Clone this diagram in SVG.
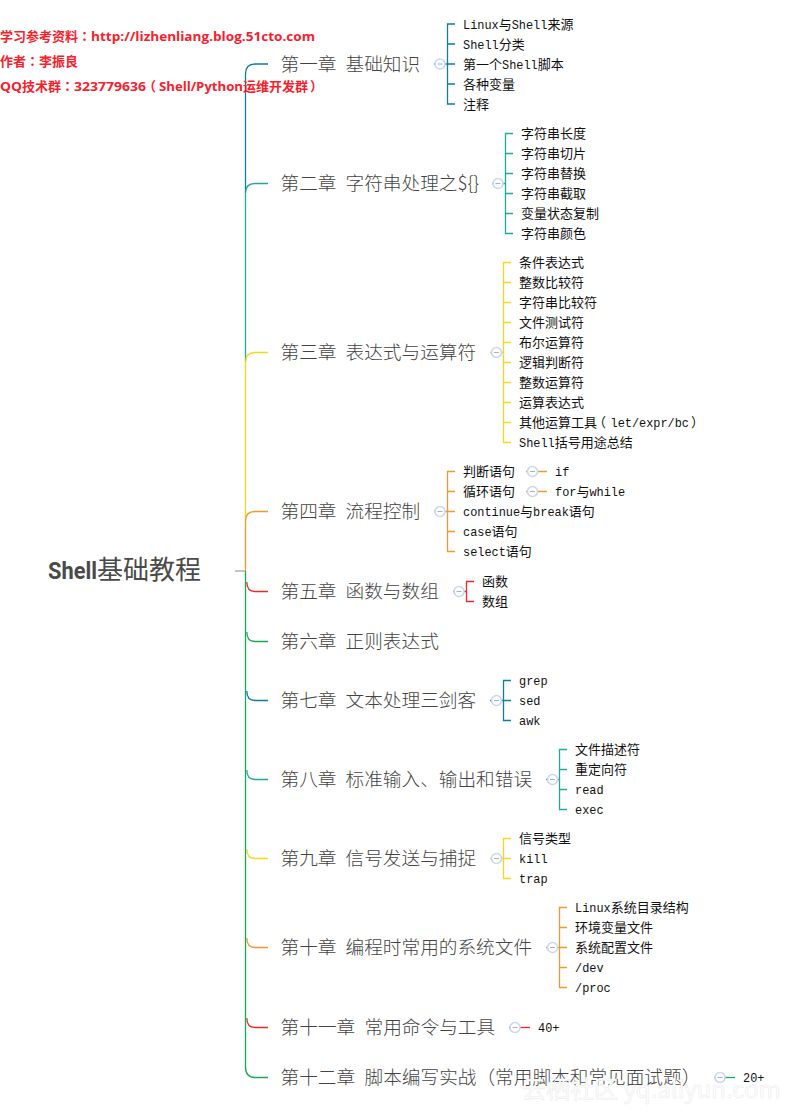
<svg xmlns="http://www.w3.org/2000/svg" width="791" height="1112" viewBox="0 0 791 1112">
<defs>
<g id="fold"><circle r="5" fill="#fff" stroke="#c9d7f1" stroke-width="1.6"/><path d="M-2.500 0H2.500" stroke="#9fb0d0" stroke-width="1"/></g>
</defs>
<style>
text{white-space:pre}
.note{font-family:"Open Sans","Noto Sans CJK SC",sans-serif;font-size:13px;font-weight:700;fill:#f5222d}
.p{font-family:"Noto Sans CJK TC",sans-serif}
.root{font-family:"Noto Sans CJK SC",sans-serif;font-size:26px;fill:#4a4a4a}
.rootL{font-family:Roboto,sans-serif;font-weight:700;font-size:24px}
.ch{font-family:"Noto Sans CJK SC",sans-serif;font-size:18.67px;font-weight:300;fill:#444}
.leaf{font-family:"Liberation Mono","Noto Sans CJK SC",monospace;font-size:11.900px;fill:#111}
.z{font-family:"Noto Sans CJK SC",sans-serif;font-size:13px}
.wm{font-family:"Noto Sans CJK SC",sans-serif;font-size:24px;fill:#fff;stroke:#ececec;stroke-width:.6}
#connectors path{fill:none;stroke-width:1.3}
.blue{stroke:#0b7f9c}.teal{stroke:#1eab9a}.yellow{stroke:#ffd416}.orange{stroke:#f5972a}.red{stroke:#ee2a20}.green{stroke:#19a95a}
</style>
<g id="connectors">
<path d="M235 571H245" style="stroke:#a5a5a5"/>
<path class="blue" d="M245.500 193V74Q245.500 64 255 64H268"/>
<path class="teal" d="M245.500 362V193Q245.500 183.500 255 183.500H268"/>
<path class="yellow" d="M245.500 521V362Q245.500 352.500 255 352.500H268"/>
<path class="orange" d="M245.500 571V521Q245.500 511.500 255 511.500H268"/>
<path class="red" d="M246.800 582Q246.800 591.500 255 591.500H268"/>
<path class="green" d="M246.800 632Q246.800 641.500 255 641.500H268"/>
<path class="blue" d="M246.800 691Q246.800 700.500 255 700.500H268"/>
<path class="teal" d="M246.800 770Q246.800 779.500 255 779.500H268"/>
<path class="yellow" d="M246.800 849Q246.800 858.500 255 858.500H268"/>
<path class="orange" d="M246.800 938Q246.800 947.500 255 947.500H268"/>
<path class="red" d="M246.800 1018Q246.800 1027.500 255 1027.500H268"/>
<path class="green" d="M245.500 571V1067Q245.500 1077.500 255 1077.500H268"/>
<path class="blue" d="M434 64H447.500M455 24H447.500V104H455M447.500 44H455M447.500 64H455M447.500 84H455"/>
<path class="teal" d="M492 183.500H505.500M513 133.500H505.500V233.500H513M505.500 153.500H513M505.500 173.500H513M505.500 193.500H513M505.500 213.500H513"/>
<path class="yellow" d="M490 352.500H503.500M511 262.500H503.500V442.500H511M503.500 282.500H511M503.500 302.500H511M503.500 322.500H511M503.500 342.500H511M503.500 362.500H511M503.500 382.500H511M503.500 402.500H511M503.500 422.500H511"/>
<path class="orange" d="M434 511.500H447.500M455 471.500H447.500V551.500H455M447.500 491.500H455M447.500 511.500H455M447.500 531.500H455M526 471.500H547M526 491.500H547"/>
<path class="red" d="M453 591.500H466.500M474 581.500H466.500V601.500H474"/>
<path class="blue" d="M490 700.500H503.500M511 680.500H503.500V720.500H511M503.500 700.500H511"/>
<path class="teal" d="M546 779.500H559.500M567 749.500H559.500V809.500H567M559.500 769.500H567M559.500 789.500H567"/>
<path class="yellow" d="M490 858.500H503.500M511 838.500H503.500V878.500H511M503.500 858.500H511"/>
<path class="orange" d="M546 947.500H559.500M567 907.500H559.500V987.500H567M559.500 927.500H567M559.500 947.500H567M559.500 967.500H567"/>
<path class="red" d="M509 1027.500H530"/>
<path class="green" d="M714 1077.500H735"/>
</g>
<g id="note">
<text class="note" y="41"><tspan x="0">学习参考资料</tspan><tspan class="p" x="78">：</tspan><tspan x="91" textLength="224" lengthAdjust="spacingAndGlyphs">http://lizhenliang.blog.51cto.com</tspan></text>
<text class="note" y="66"><tspan x="0">作者</tspan><tspan class="p" x="26">：</tspan><tspan x="39">李振良</tspan></text>
<text class="note" y="91"><tspan x="0" textLength="22" lengthAdjust="spacingAndGlyphs">QQ</tspan><tspan x="22">技术群</tspan><tspan class="p" x="61">：</tspan><tspan x="74" textLength="72" lengthAdjust="spacingAndGlyphs">323779636</tspan><tspan class="p" x="143">（</tspan><tspan x="159" textLength="84" lengthAdjust="spacingAndGlyphs">Shell/Python</tspan><tspan x="243">运维开发群</tspan><tspan class="p" x="310">）</tspan></text>
</g>
<g id="root"><text class="root" x="48" y="578.500"><tspan class="rootL" textLength="49" lengthAdjust="spacingAndGlyphs">Shell</tspan><tspan x="97">基础教程</tspan></text></g>
<g id="ch1"><text class="ch" y="70.500"><tspan x="280.500">第一章</tspan><tspan x="345.500">基础知识</tspan></text><use href="#fold" x="440" y="64"/></g>
<g id="ch2"><text class="ch" y="189.500"><tspan x="280.500">第二章</tspan><tspan x="345.500">字符串处理之${}</tspan></text><use href="#fold" x="498" y="183.500"/></g>
<g id="ch3"><text class="ch" y="358.500"><tspan x="280.500">第三章</tspan><tspan x="345.500">表达式与运算符</tspan></text><use href="#fold" x="496.500" y="352.500"/></g>
<g id="ch4"><text class="ch" y="517.500"><tspan x="280.500">第四章</tspan><tspan x="345.500">流程控制</tspan></text><use href="#fold" x="440" y="511.500"/></g>
<g id="ch5"><text class="ch" y="597.500"><tspan x="280.500">第五章</tspan><tspan x="345.500">函数与数组</tspan></text><use href="#fold" x="459" y="591.500"/></g>
<g id="ch6"><text class="ch" y="647.500"><tspan x="280.500">第六章</tspan><tspan x="345.500">正则表达式</tspan></text></g>
<g id="ch7"><text class="ch" y="706.500"><tspan x="280.500">第七章</tspan><tspan x="345.500">文本处理三剑客</tspan></text><use href="#fold" x="496.500" y="700.500"/></g>
<g id="ch8"><text class="ch" y="785.500"><tspan x="280.500">第八章</tspan><tspan x="345.500">标准输入、输出和错误</tspan></text><use href="#fold" x="552.500" y="779.500"/></g>
<g id="ch9"><text class="ch" y="864.500"><tspan x="280.500">第九章</tspan><tspan x="345.500">信号发送与捕捉</tspan></text><use href="#fold" x="496.500" y="858.500"/></g>
<g id="ch10"><text class="ch" y="953.500"><tspan x="280.500">第十章</tspan><tspan x="345.500">编程时常用的系统文件</tspan></text><use href="#fold" x="552.500" y="947.500"/></g>
<g id="ch11"><text class="ch" y="1033.500"><tspan x="280.500">第十一章</tspan><tspan x="364.500">常用命令与工具</tspan></text><use href="#fold" x="515" y="1027.500"/></g>
<g id="ch12"><text class="ch" y="1083.500"><tspan x="280.500">第十二章</tspan><tspan x="364.500">脚本编写实战（常用脚本和常见面试题）</tspan></text><use href="#fold" x="720" y="1077.500"/></g>
<g id="leaves-ch1">
<g id="l1-1"><text class="leaf" x="463" y="28.500">Linux<tspan class="z">与</tspan>Shell<tspan class="z">来源</tspan></text></g>
<g id="l1-2"><text class="leaf" x="463" y="48.500">Shell<tspan class="z">分类</tspan></text></g>
<g id="l1-3"><text class="leaf" x="463" y="68.500"><tspan class="z">第一个</tspan>Shell<tspan class="z">脚本</tspan></text></g>
<g id="l1-4"><text class="leaf z" x="463" y="88.500">各种变量</text></g>
<g id="l1-5"><text class="leaf z" x="463" y="108.500">注释</text></g>
</g>
<g id="leaves-ch2">
<g id="l2-1"><text class="leaf z" x="521" y="137.500">字符串长度</text></g>
<g id="l2-2"><text class="leaf z" x="521" y="157.500">字符串切片</text></g>
<g id="l2-3"><text class="leaf z" x="521" y="177.500">字符串替换</text></g>
<g id="l2-4"><text class="leaf z" x="521" y="197.500">字符串截取</text></g>
<g id="l2-5"><text class="leaf z" x="521" y="217.500">变量状态复制</text></g>
<g id="l2-6"><text class="leaf z" x="521" y="237.500">字符串颜色</text></g>
</g>
<g id="leaves-ch3">
<g id="l3-1"><text class="leaf z" x="519" y="266.500">条件表达式</text></g>
<g id="l3-2"><text class="leaf z" x="519" y="286.500">整数比较符</text></g>
<g id="l3-3"><text class="leaf z" x="519" y="306.500">字符串比较符</text></g>
<g id="l3-4"><text class="leaf z" x="519" y="326.500">文件测试符</text></g>
<g id="l3-5"><text class="leaf z" x="519" y="346.500">布尔运算符</text></g>
<g id="l3-6"><text class="leaf z" x="519" y="366.500">逻辑判断符</text></g>
<g id="l3-7"><text class="leaf z" x="519" y="386.500">整数运算符</text></g>
<g id="l3-8"><text class="leaf z" x="519" y="406.500">运算表达式</text></g>
<g id="l3-9"><text class="leaf" y="426.500"><tspan class="z" x="519">其他运算工具</tspan><tspan class="z" x="593">（</tspan><tspan x="610.500">let/expr/bc</tspan><tspan class="z" x="691">）</tspan></text></g>
<g id="l3-10"><text class="leaf" x="519" y="446.500">Shell<tspan class="z">括号用途总结</tspan></text></g>
</g>
<g id="leaves-ch4">
<g id="l4-1"><text class="leaf z" x="463" y="475.500">判断语句</text><use href="#fold" x="532.500" y="471.500"/></g>
<g id="l4-1a"><text class="leaf" x="555" y="475.500">if</text></g>
<g id="l4-2"><text class="leaf z" x="463" y="495.500">循环语句</text><use href="#fold" x="532.500" y="491.500"/></g>
<g id="l4-2a"><text class="leaf" x="555" y="495.500">for<tspan class="z">与</tspan>while</text></g>
<g id="l4-3"><text class="leaf" x="463" y="515.500">continue<tspan class="z">与</tspan>break<tspan class="z">语句</tspan></text></g>
<g id="l4-4"><text class="leaf" x="463" y="535.500">case<tspan class="z">语句</tspan></text></g>
<g id="l4-5"><text class="leaf" x="463" y="555.500">select<tspan class="z">语句</tspan></text></g>
</g>
<g id="leaves-ch5">
<g id="l5-1"><text class="leaf z" x="482" y="585.500">函数</text></g>
<g id="l5-2"><text class="leaf z" x="482" y="605.500">数组</text></g>
</g>
<g id="leaves-ch7">
<g id="l7-1"><text class="leaf" x="519" y="684.500">grep</text></g>
<g id="l7-2"><text class="leaf" x="519" y="704.500">sed</text></g>
<g id="l7-3"><text class="leaf" x="519" y="724.500">awk</text></g>
</g>
<g id="leaves-ch8">
<g id="l8-1"><text class="leaf z" x="575" y="753.500">文件描述符</text></g>
<g id="l8-2"><text class="leaf z" x="575" y="773.500">重定向符</text></g>
<g id="l8-3"><text class="leaf" x="575" y="793.500">read</text></g>
<g id="l8-4"><text class="leaf" x="575" y="813.500">exec</text></g>
</g>
<g id="leaves-ch9">
<g id="l9-1"><text class="leaf z" x="519" y="842.500">信号类型</text></g>
<g id="l9-2"><text class="leaf" x="519" y="862.500">kill</text></g>
<g id="l9-3"><text class="leaf" x="519" y="882.500">trap</text></g>
</g>
<g id="leaves-ch10">
<g id="l10-1"><text class="leaf" x="575" y="911.500">Linux<tspan class="z">系统目录结构</tspan></text></g>
<g id="l10-2"><text class="leaf z" x="575" y="931.500">环境变量文件</text></g>
<g id="l10-3"><text class="leaf z" x="575" y="951.500">系统配置文件</text></g>
<g id="l10-4"><text class="leaf" x="575" y="971.500">/dev</text></g>
<g id="l10-5"><text class="leaf" x="575" y="991.500">/proc</text></g>
</g>
<g id="l11-1"><text class="leaf" x="538" y="1031.500">40+</text></g>
<g id="l12-1"><text class="leaf" x="743" y="1081.500">20+</text></g>
<g id="watermark"><text class="wm" x="522" y="1098">云栖社区 yq.aliyun.com</text></g>
</svg>
